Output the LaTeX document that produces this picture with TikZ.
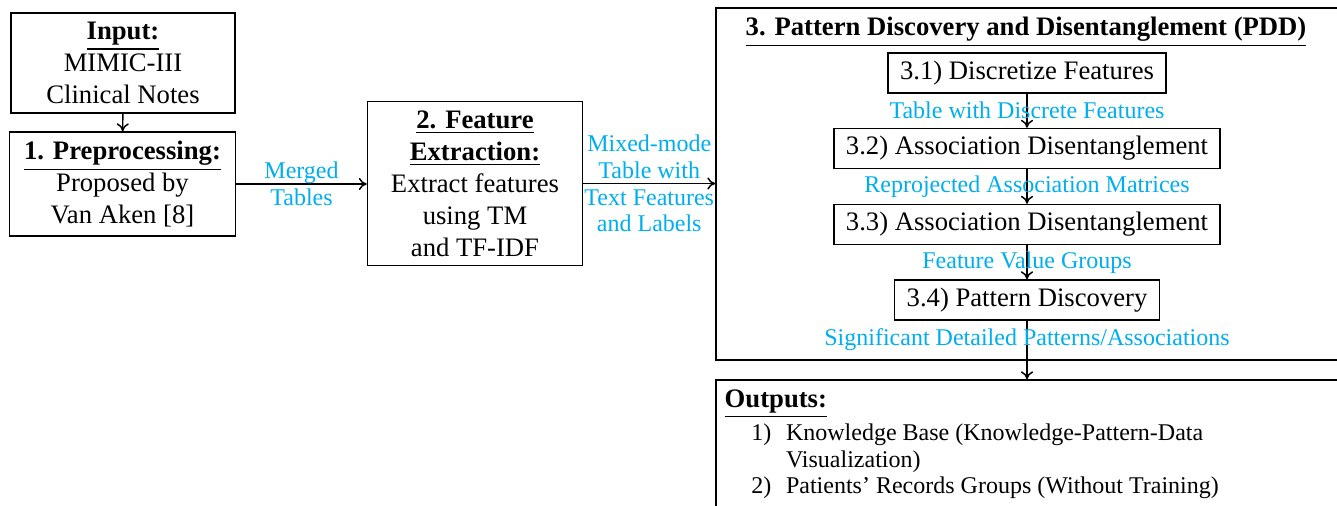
\documentclass[tikz,border=0pt,10pt]{standalone}
\usepackage{fontspec}
\setmainfont{Liberation Serif}
\usetikzlibrary{calc,positioning,arrows.meta}
\definecolor{lblue}{RGB}{0,174,239}

\tikzset{
	blk/.style={draw, align=center, inner sep=0pt},
	stepbox/.style={draw, align=center, inner xsep=4.5pt, inner ysep=0pt, minimum height=15pt},
	lbl/.style={text=lblue, align=center, inner sep=0pt, font=\fontsize{9}{10}\selectfont},
}

\begin{document}
\begin{tikzpicture}[x=0.375pt, y=-0.375pt, line width=0.55pt, >={To[length=3pt, width=4.6pt]}]
				%%%%% START %%%%%
				\useasboundingbox (0,0) rectangle (1337,506);
				
				% input and preprocessing
				\node[blk, minimum width=84pt, minimum height=37.5pt] (inp) at (123, 63)
					{\underline{\textbf{Input:}}\\MIMIC-III\\Clinical Notes};
				\node[blk, minimum width=84.75pt, minimum height=39pt] (pre) at (122.5, 184)
					{\underline{\textbf{1. Preprocessing:}}\\Proposed by\\Van Aken [8]};
				\draw[->] (inp) -- (pre);
				
				% feature extraction
				\node[blk, minimum width=80.6pt, minimum height=61.5pt] (fext) at (475, 183.5)
					{\underline{\textbf{2. Feature}}\\\underline{\textbf{Extraction:}}\\Extract features\\using TM\\and TF-IDF};
				
				% PDD block
				\node[draw, minimum width=234.75pt, minimum height=132pt, inner sep=0pt] (pdd) at (1029, 184) {};
				\node[inner sep=0pt] (pddt) at (1026, 32) {\underline{\textbf{3. Pattern Discovery and Disentanglement (PDD)}}};
				\node[stepbox] (s1) at (1027, 73) {3.1) Discretize Features};
				\node[stepbox] (s2) at (1027, 148.5) {3.2) Association Disentanglement};
				\node[stepbox] (s3) at (1027, 224.5) {3.3) Association Disentanglement};
				\node[stepbox] (s4) at (1027, 300) {3.4) Pattern Discovery};
				
				% outputs
				\node[draw, minimum width=234.75pt, minimum height=50.6pt, inner sep=0pt] (out) at (1029, 447.5) {};
				\node[anchor=north west, inner sep=0pt] (outtxt) at (724, 384) {%
					\begin{tabular}{@{}l@{}l@{}}
					\multicolumn{2}{@{}l@{}}{\underline{\textbf{Outputs:}}}\\
					\fontsize{9}{10}\selectfont\makebox[23pt][l]{\hspace{10pt}1)} & \fontsize{9}{10}\selectfont Knowledge Base (Knowledge-Pattern-Data\\[-2pt]
					 & \fontsize{9}{10}\selectfont Visualization)\\[-2pt]
					\fontsize{9}{10}\selectfont\makebox[23pt][l]{\hspace{10pt}2)} & \fontsize{9}{10}\selectfont Patients' Records Groups (Without Training)
					\end{tabular}};
				
				% connectors
				\draw[->] (pre.east) -- (pre.east -| fext.west)
					node[lbl, midway] {Merged\\Tables};
				\draw[->] (fext.east) -- (fext.east -| pdd.west)
					node[lbl, midway] {Mixed-mode\\Table with\\Text Features\\and Labels};
				\draw[->] (s1) -- (s2) node[lbl, midway] {Table with Discrete Features};
				\draw[->] (s2) -- (s3) node[lbl, midway] {Reprojected Association Matrices};
				\draw[->] (s3) -- (s4) node[lbl, midway] {Feature Value Groups};
				\draw[->] (s4) -- (s4.south |- out.north)
					node[lbl, pos=0.32] {Significant Detailed Patterns/Associations};
				%%%%% END %%%%%
\end{tikzpicture}
\end{document}
